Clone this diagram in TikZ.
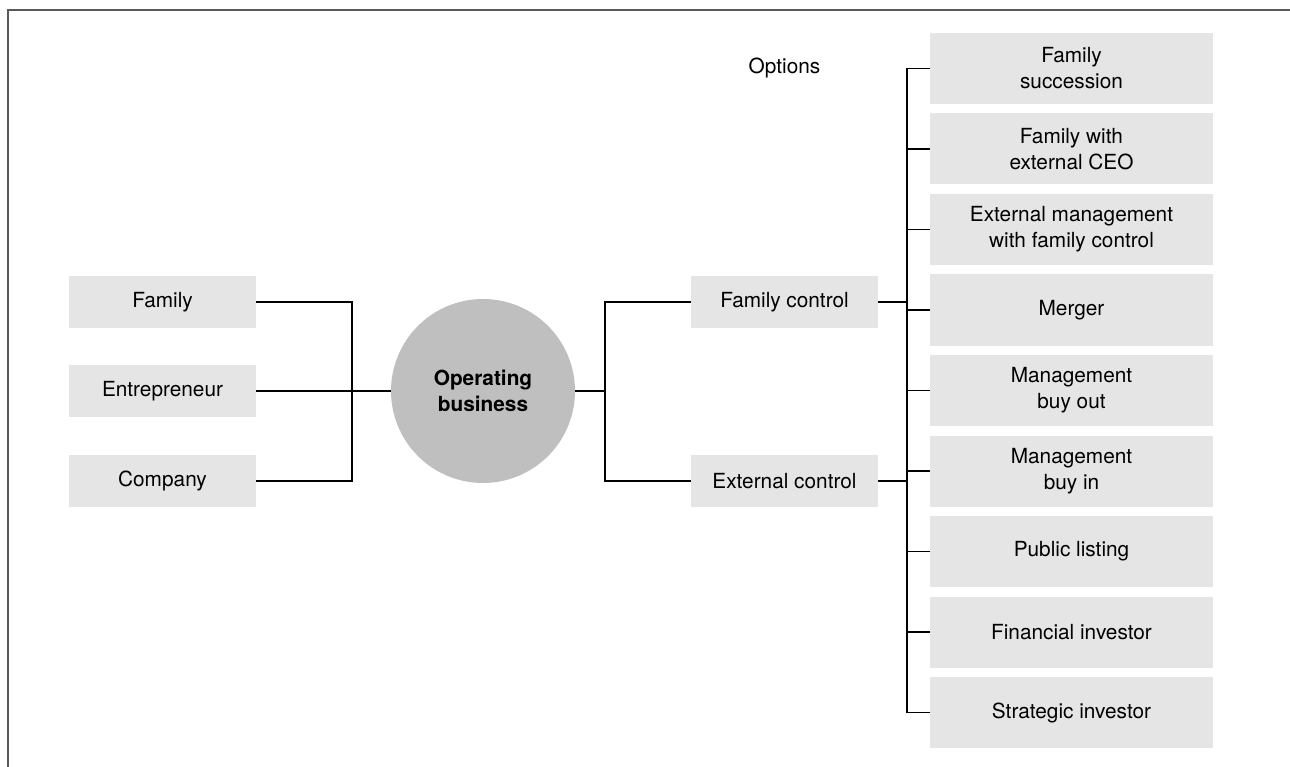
\documentclass[tikz,border=0pt]{standalone}
\usepackage{fontspec}
\setmainfont{TeX Gyre Heros}
\begin{document}
\begin{tikzpicture}[x=1pt,y=-1pt,
  every node/.style={font=\fontsize{20.8}{26}\selectfont, text=black, align=center, inner sep=0pt},
  leftbox/.style={fill=boxgray, minimum width=187pt, minimum height=52pt},
  optbox/.style={fill=boxgray, minimum width=283pt, minimum height=71pt},
  conn/.style={draw=black, line width=1.2pt},
  frame/.style={draw=black!65, line width=1.6pt}]
\definecolor{boxgray}{HTML}{E5E5E5}
\definecolor{circgray}{HTML}{BFBFBF}
\useasboundingbox (0,0) rectangle (1290,767);
\draw[frame] (8,767) -- (8,10) -- (1290,10);

% left side
\node[leftbox] (fam) at (162.5,302) {Family};
\node[leftbox] (ent) at (162.5,391) {Entrepreneur};
\node[leftbox] (com) at (162.5,481) {Company};

% centre
\node[circle, fill=circgray, minimum size=184pt, font=\fontsize{20.8}{26}\selectfont\bfseries] (ob) at (483,391) {Operating\\business};

% control
\node[leftbox] (fc) at (784.5,302) {Family control};
\node[leftbox] (ec) at (784.5,481) {External control};

\node (opt) at (784.5,68) {Options};

% options
\node[optbox] (o1) at (1071.5,68.5) {Family\\succession};
\node[optbox] (o2) at (1071.5,149) {Family with\\external CEO};
\node[optbox] (o3) at (1071.5,229.5) {External management\\with family control};
\node[optbox] (o4) at (1071.5,310) {Merger};
\node[optbox] (o5) at (1071.5,390.5) {Management\\buy out};
\node[optbox] (o6) at (1071.5,471) {Management\\buy in};
\node[optbox] (o7) at (1071.5,551.5) {Public listing};
\node[optbox] (o8) at (1071.5,632) {Financial investor};
\node[optbox] (o9) at (1071.5,712.5) {Strategic investor};

% connectors
\coordinate (jl) at (352,391);
\coordinate (jr) at (605,391);
\coordinate (tr) at (907,391);
\draw[conn] (fam.east) -| (jl) |- (com.east);
\draw[conn] (ent.east) -- (ob.west);
\draw[conn] (ob.east) -- (jr);
\draw[conn] (fc.west) -| (jr) |- (ec.west);
\draw[conn] (fc.east) -- (fc.east -| tr);
\draw[conn] (ec.east) -- (ec.east -| tr);
\draw[conn] (o1.west) -| (tr) |- (o9.west);
\foreach \i in {2,...,8} {\draw[conn] (o\i.west) -- (o\i.west -| tr);}
\end{tikzpicture}
\end{document}
